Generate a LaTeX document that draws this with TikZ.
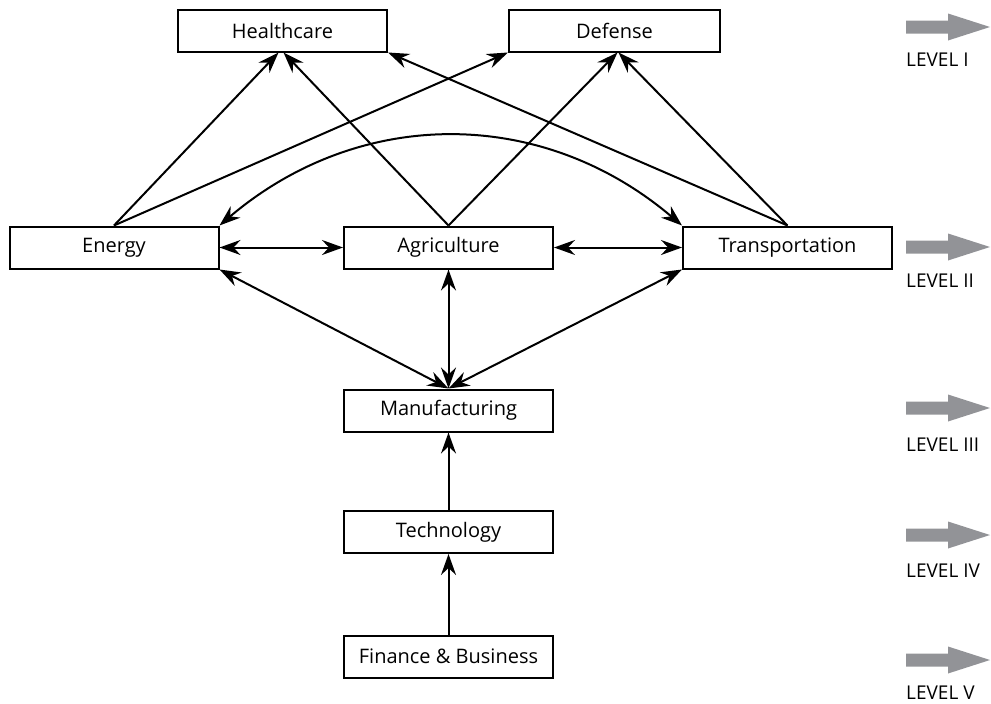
\documentclass[tikz,border=0pt]{standalone}
\usepackage{fontspec}
\setmainfont{Open Sans}
\usetikzlibrary{arrows.meta,calc}
\definecolor{levelgray}{RGB}{146,147,151}
\begin{document}
\begin{tikzpicture}[x=1pt,y=-1pt,
  box/.style={draw,line width=2pt,minimum width=209pt,minimum height=42pt,inner sep=0pt,
    font=\fontsize{20}{24}\selectfont},
  tip/.tip={Stealth[length=21pt,width=15pt,inset=7pt]},
  link/.style={line width=2pt,-tip},
  both/.style={line width=2pt,tip-tip},
  levelarrow/.style={fill=levelgray},
  leveltext/.style={anchor=base west,inner sep=0pt,font=\fontsize{19}{22}\selectfont}]
\useasboundingbox (0,0) rectangle (991,704);

\node[box] (healthcare) at (282.5,30.5) {Healthcare};
\node[box,minimum width=211pt] (defense) at (614.5,30.5) {Defense};
\node[box] (energy) at (114,247.5) {Energy};
\node[box] (agriculture) at (448.5,247.5) {Agriculture};
\node[box] (transportation) at (787.5,247.5) {Transportation};
\node[box] (manufacturing) at (448.5,410.5) {Manufacturing};
\node[box] (technology) at (448.5,532) {Technology};
\node[box] (finance) at (448.5,656.5) {Finance \& Business};

% to level I
\draw[link] (energy.north) -- ($(healthcare.south)+(-4,0)$);
\draw[link] (agriculture.north) -- ($(healthcare.south)+(1,0)$);
\draw[link] (energy.north) -- (defense.south west);
\draw[link] (agriculture.north) -- ($(defense.south)+(3,0)$);
\draw[link] (transportation.north) -- ($(defense.south)+(4,0)$);
\draw[link] (transportation.north) -- (healthcare.south east);

% level II
\draw[both] (energy.north east) .. controls +(140,-119) and +(-140,-119) .. (transportation.north west);
\draw[both] (energy.east) -- (agriculture.west);
\draw[both] (agriculture.east) -- (transportation.west);

% to manufacturing
\draw[both] (energy.south east) -- (manufacturing.north);
\draw[both] (agriculture.south) -- (manufacturing.north);
\draw[both] (manufacturing.north) -- (transportation.south west);

\draw[link] (technology.north) -- (manufacturing.south);
\draw[link] (finance.north) -- (technology.south);

% levels
\foreach \c/\t/\ty in {27/LEVEL I/66, 247/LEVEL II/287, 408/LEVEL III/451, 535/LEVEL IV/577, 660/LEVEL V/699}{
  \fill[levelarrow] (906,\c-6.5) -- (948,\c-6.5) -- (948,\c-13.5) -- (990,\c) -- (948,\c+13.5) -- (948,\c+6.5) -- (906,\c+6.5) -- cycle;
  \node[leveltext] at (906,\ty) {\t};
}
\end{tikzpicture}
\end{document}
